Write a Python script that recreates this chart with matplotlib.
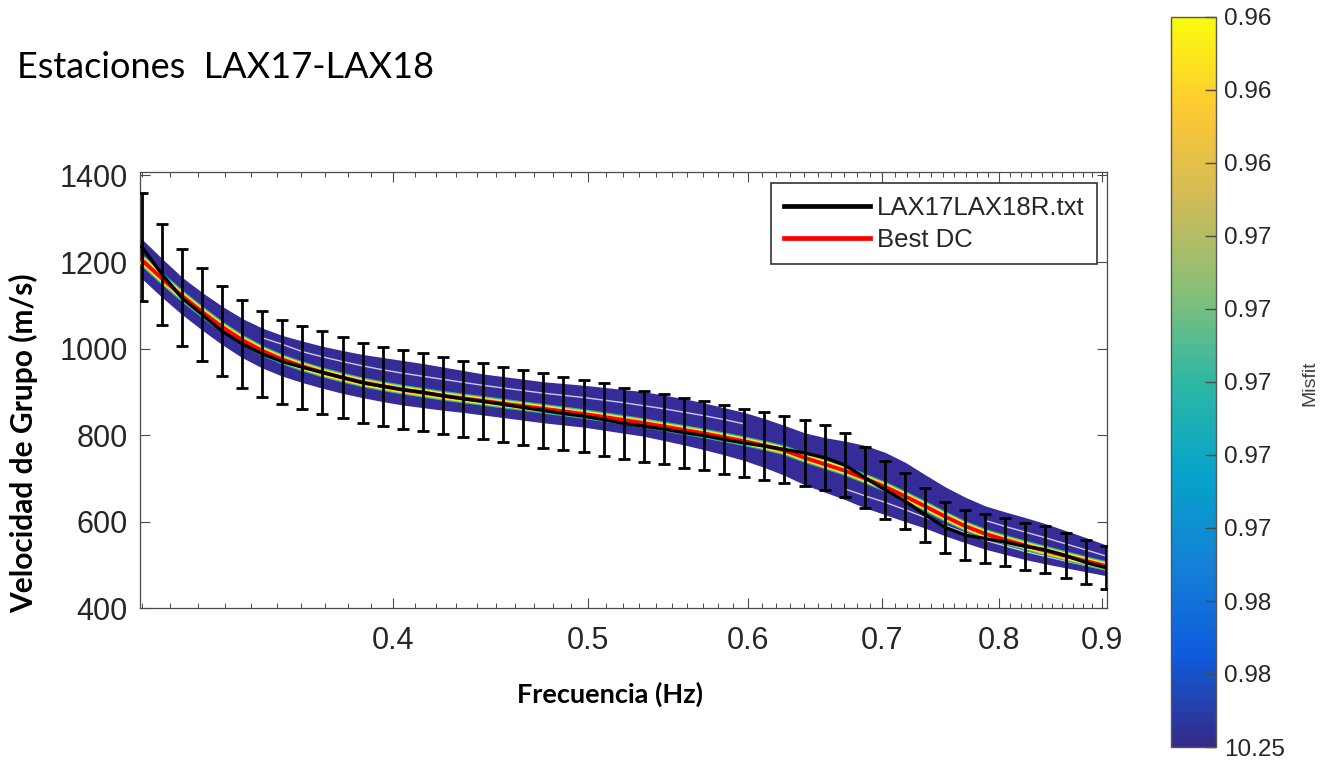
import matplotlib
matplotlib.use("Agg")
import matplotlib.pyplot as plt
from matplotlib.colors import LinearSegmentedColormap, Normalize
from matplotlib.cm import ScalarMappable
from matplotlib.ticker import FixedLocator, NullFormatter

# ---------------- data ----------------
freq = [0.3000, 0.3070, 0.3141, 0.3214, 0.3289, 0.3365, 0.3443, 0.3523, 0.3605, 0.3689,
        0.3775, 0.3863, 0.3953, 0.4045, 0.4139, 0.4235, 0.4333, 0.4434, 0.4537, 0.4642,
        0.4750, 0.4860, 0.4973, 0.5089, 0.5207, 0.5328, 0.5452, 0.5578, 0.5708, 0.5841,
        0.5976, 0.6115, 0.6257, 0.6403, 0.6552, 0.6704, 0.6860, 0.7019, 0.7182, 0.7349,
        0.7520, 0.7695, 0.7874, 0.8057, 0.8244, 0.8435, 0.8631, 0.8832, 0.9037]

# observed dispersion curve (LAX17LAX18R.txt)
vg_obs = [1235, 1172, 1117, 1079, 1040, 1011, 988, 970, 957, 945,
          933, 921, 913, 905, 899, 891, 884, 878, 871, 864,
          857, 850, 844, 836, 827, 821, 814, 806, 799, 790,
          782, 775, 767, 759, 748, 731, 702, 674, 648, 616,
          587, 569, 561, 553, 543, 535, 522, 506, 494]
vg_err = [124, 117, 112, 108, 104, 101, 99, 97, 96, 95,
          93, 92, 91, 91, 90, 89, 88, 88, 87, 86,
          86, 85, 84, 84, 83, 82, 81, 81, 80, 79,
          78, 78, 77, 76, 75, 73, 70, 67, 65, 62,
          59, 57, 56, 55, 54, 54, 52, 51, 49]

# best dispersion curve
vg_best = [1205, 1162, 1122, 1085, 1050, 1020, 995, 975, 959, 945,
           933, 922, 913, 905, 898, 891, 885, 879, 873, 867,
           861, 855, 849, 842, 835, 828, 820, 812, 804, 795,
           786, 776, 765, 748, 733, 718, 700, 681, 659, 636,
           612, 590, 572, 558, 545, 533, 521, 509, 498]

# envelope of all tested models
vg_upper = [1250, 1205, 1162, 1127, 1095, 1067, 1045, 1028, 1015, 1003,
            993, 984, 977, 970, 963, 955, 947, 939, 933, 927,
            921, 917, 913, 908, 903, 898, 890, 882, 872, 861,
            850, 836, 820, 803, 792, 784, 774, 758, 735, 706,
            678, 654, 634, 620, 607, 593, 577, 561, 544]
vg_lower = [1165, 1122, 1082, 1046, 1012, 982, 958, 939, 924, 911,
            899, 889, 880, 872, 866, 860, 855, 849, 843, 837,
            831, 826, 821, 814, 807, 800, 790, 780, 769, 757,
            744, 728, 710, 688, 671, 654, 635, 619, 603, 588,
            570, 554, 539, 527, 515, 505, 496, 487, 478]

# a few light (white) model curves visible inside the band
w1_freq = freq[6:31]
w1_vg = [1025, 1010, 993, 981, 970, 960, 951, 943, 936, 929, 922, 915, 909, 903,
         897, 892, 887, 881, 875, 868, 861, 853, 845, 836, 826]
w2_freq = freq[35:49]
w2_vg = [676, 660, 645, 628, 610, 592, 574, 557, 544, 531, 520, 509, 499, 489]
w3_freq = freq[42:49]
w3_vg = [603, 589, 576, 563, 549, 535, 521]

x_major = [0.4, 0.5, 0.6, 0.7, 0.8, 0.9]
x_major_labels = ["0.4", "0.5", "0.6", "0.7", "0.8", "0.9"]
x_minor = [round(0.30 + 0.01 * i, 2) for i in range(61)]
y_ticks = [400, 600, 800, 1000, 1200, 1400]
cbar_labels_top_to_bottom = ["0.96", "0.96", "0.96", "0.97", "0.97", "0.97",
                             "0.97", "0.97", "0.98", "0.98", "10.25"]

title = "Estaciones  LAX17-LAX18"
xlabel = "Frecuencia (Hz)"
ylabel = "Velocidad de Grupo (m/s)"
legend_labels = ["LAX17LAX18R.txt", "Best DC"]

# ---------------- style ----------------
parula = LinearSegmentedColormap.from_list(
    "parula", ["#352a87", "#0f5cdd", "#1481d6", "#06a4ca", "#2eb7a4",
               "#87bf77", "#d1bb59", "#fec832", "#f9fb0e"])
band_color = "#352c98"
axis_color = "#4a4a4a"
text_color = "#262626"
tick_font = "Liberation Sans"
label_font = ["Lato", "DejaVu Sans"]

W, H = 1336, 761
fig = plt.figure(figsize=(W / 100, H / 100), dpi=100)
fig.patch.set_facecolor("white")

ax = fig.add_axes([140 / W, (H - 608.3) / H, (1107 - 140) / W, (608.3 - 172) / H])
ax.set_xscale("log")

# model band
ax.fill_between(freq, vg_lower, vg_upper, color=band_color, lw=1.5,
                edgecolor=band_color, zorder=1)
ax.plot(w1_freq, w1_vg, color="white", lw=1.0, alpha=0.75, zorder=2)
ax.plot(w2_freq, w2_vg, color="white", lw=1.0, alpha=0.75, zorder=2)
ax.plot(w3_freq, w3_vg, color="white", lw=1.0, alpha=0.75, zorder=2)

# best models (low misfit) hugging the best curve
ax.plot(freq, vg_best, color="#2eb7a4", lw=7.0, zorder=3, solid_capstyle="butt")
ax.plot(freq, vg_best, color="#f5e61a", lw=5.2, zorder=4, solid_capstyle="butt")
ax.plot(freq, vg_best, color="#ff0000", lw=2.8, zorder=5, label=legend_labels[1])

# observed data with error bars
ax.errorbar(freq, vg_obs, yerr=vg_err, fmt="none", ecolor="black",
            elinewidth=2.0, capsize=4.5, capthick=2.0, zorder=6)
ax.plot(freq, vg_obs, color="black", lw=2.4, zorder=7, label=legend_labels[0])

ax.set_xlim(0.2994, 0.9050)
ax.set_ylim(400, 1408)

ax.xaxis.set_major_locator(FixedLocator(x_major))
ax.set_xticklabels(x_major_labels)
ax.xaxis.set_minor_locator(FixedLocator([m for m in x_minor if m not in x_major]))
ax.xaxis.set_minor_formatter(NullFormatter())
ax.set_yticks(y_ticks)
ax.set_yticklabels([str(v) for v in y_ticks])

ax.tick_params(axis="both", which="major", direction="in", length=7, width=0.8,
               colors=axis_color, labelcolor=text_color, labelsize=22,
               top=True, right=True, pad=9)
ax.tick_params(axis="x", which="major", pad=13)
ax.tick_params(axis="x", which="minor", direction="in", length=3.5, width=0.7,
               colors=axis_color, top=True)
for lab in ax.get_xticklabels() + ax.get_yticklabels():
    lab.set_fontfamily(tick_font)
for sp in ax.spines.values():
    sp.set_color(axis_color)
    sp.set_linewidth(0.9)

# legend
handles, labels = ax.get_legend_handles_labels()
order = [labels.index(legend_labels[0]), labels.index(legend_labels[1])]
leg = ax.legend([handles[i] for i in order], [labels[i] for i in order],
                loc="upper right", bbox_to_anchor=((1097 - 140) / 967, (608.3 - 183) / 436.3),
                prop={"family": tick_font, "size": 18.5}, frameon=True, fancybox=False,
                edgecolor="#333333", framealpha=1, handlelength=3.35, handletextpad=0.25,
                borderpad=0.5, labelspacing=0.3, borderaxespad=0)
leg.get_frame().set_linewidth(1.2)
for line in leg.get_lines():
    line.set_linewidth(3.4)
for t in leg.get_texts():
    t.set_color(text_color)

# texts
fig.text(17 / W, 1 - 78 / H, title, fontsize=26, family=label_font,
         ha="left", va="baseline", color="black")
fig.text(610 / W, 1 - 703 / H, xlabel, fontsize=19.5, family=label_font,
         fontweight="bold", ha="center", va="baseline", color="black")
fig.text(24 / W, 1 - 443 / H, ylabel, fontsize=21.5, family=label_font,
         fontweight="bold", ha="center", va="center", rotation=90, color="black")

# colorbar
cax = fig.add_axes([1171 / W, (H - 747) / H, (1216 - 1171) / W, (747 - 17) / H])
sm = ScalarMappable(norm=Normalize(0, 10), cmap=parula)
cb = fig.colorbar(sm, cax=cax, orientation="vertical")
cb.set_ticks(list(range(11)))
cb.set_ticklabels(list(reversed(cbar_labels_top_to_bottom)))
cax.tick_params(direction="in", length=8, width=1.0, colors=axis_color,
                labelcolor=text_color, labelsize=17.5, pad=6)
for lab in cax.get_yticklabels():
    lab.set_fontfamily(tick_font)
cb.outline.set_edgecolor("#555555")
cb.outline.set_linewidth(1.0)
fig.text(1310 / W, 1 - 383 / H, "Misfit", fontsize=14, family=tick_font,
         rotation=90, ha="center", va="center", color="#404040")

fig.savefig("out.png", dpi=100, facecolor="white")
